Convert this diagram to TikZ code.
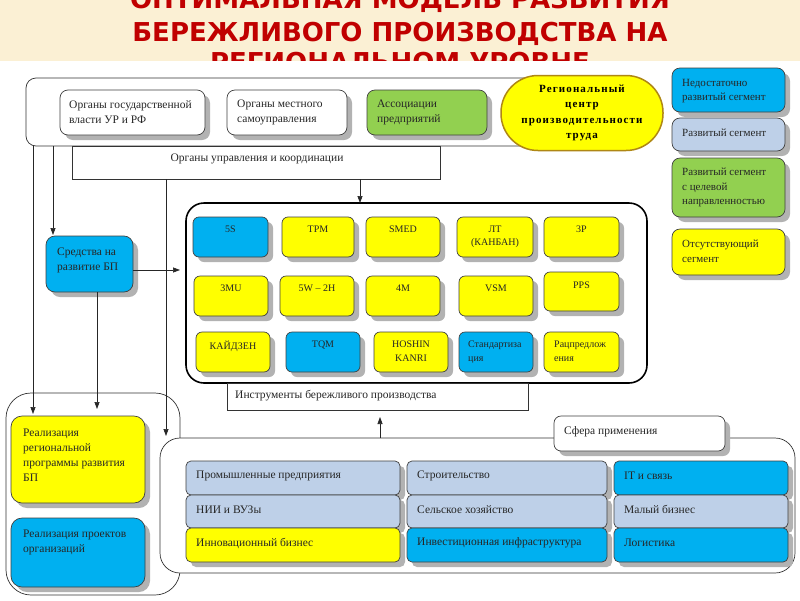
\documentclass[tikz,border=0pt]{standalone}
\usepackage{fontspec}
\setmainfont{Liberation Serif}
\newfontfamily\titlefont{DejaVu Sans}
\newfontfamily\spacedfont[LetterSpace=10]{Liberation Serif}
\usetikzlibrary{shadows,calc,arrows.meta}

\definecolor{cblue}{RGB}{0,176,240}
\definecolor{clblue}{RGB}{190,208,232}
\definecolor{cyel}{RGB}{255,255,0}
\definecolor{cgreen}{RGB}{146,208,80}
\definecolor{cred}{RGB}{192,0,0}
\definecolor{cbeige}{RGB}{251,240,212}
\definecolor{cshadow}{RGB}{178,178,178}
\definecolor{cellb}{RGB}{175,135,20}

\tikzset{
  tile/.style={draw=black!75, line width=0.7pt, rounded corners=6pt, inner sep=0pt, outer sep=0pt,
    drop shadow={shadow xshift=5pt, shadow yshift=-5pt, fill=cshadow, opacity=1}},
  txt/.style={inner sep=0pt, align=left, text=black!85, font=\fontsize{11.5}{15}\selectfont},
  frame/.style={draw=black!80, line width=0.7pt, fill=white, inner sep=0pt, outer sep=0pt, anchor=north west},
  arr/.style={draw=black!85, line width=0.7pt, -{Triangle[length=7pt,width=5pt]}},
  titlesty/.style={font=\titlefont\bfseries\fontsize{26}{30}\selectfont, text=cred, inner sep=0pt}
}

\newcommand\tileL[9]{%
  \node[tile,#6,minimum width={(#4)-(#2)},minimum height={(#5)-(#3)},anchor=north west] (#1) at (#2,#3) {};
  \node[txt,anchor=north west] (#1-t) at ([xshift=#7pt,yshift=-#8pt]#1.north west) {#9};}
\newcommand\tileC[8]{%
  \node[tile,#6,minimum width={(#4)-(#2)},minimum height={(#5)-(#3)},anchor=north west] (#1) at (#2,#3) {};
  \node[txt,align=center,anchor=north] (#1-t) at ([yshift=-#7pt]#1.north) {#8};}
\newcommand\tileM[7]{%
  \node[tile,#6,minimum width={(#4)-(#2)},minimum height={(#5)-(#3)},anchor=north west] (#1) at (#2,#3) {};
  \node[txt,anchor=west] (#1-t) at ([xshift=10pt,yshift=2pt]#1.west) {#7};}

\begin{document}
\begin{tikzpicture}[x=1pt,y=-1pt]
\useasboundingbox (0,0) rectangle (800,600);
% title band
\fill[cbeige] (0,0) rectangle (800,61);
\node[titlesty, anchor=base] (title1) at (400,8) {ОПТИМАЛЬНАЯ МОДЕЛЬ РАЗВИТИЯ};
\node[titlesty, anchor=base] (title2) at (400,41) {БЕРЕЖЛИВОГО ПРОИЗВОДСТВА НА};
\node[titlesty, anchor=base] (title3) at (400,71) {РЕГИОНАЛЬНОМ УРОВНЕ};
\fill[white] (0,61) rectangle (800,600);

% top container
\node[frame, rounded corners=10pt, minimum width=614, minimum height=68] (topb) at (26,78) {};
\node[frame, minimum width=368, minimum height=33] (orgl) at (72,146) {};
\node[txt] (orgl-t) at (257,159) {Органы управления и координации};

\tileL{g1}{60}{90}{205}{135}{fill=white,rounded corners=8pt}{9}{10}{Органы государственной\\власти УР и РФ}
\tileL{g2}{227}{90}{347}{135}{fill=white,rounded corners=8pt}{10}{10}{Органы местного\\самоуправления}
\tileL{g3}{367}{90}{487}{135}{fill=cgreen,rounded corners=8pt}{10}{10}{Ассоциации\\предприятий}

% regional centre
\node[draw=cellb, fill=cyel, line width=1.5pt, rounded corners=37pt, minimum width=162, minimum height=75,
  inner sep=0pt, align=center, font=\spacedfont\bfseries\fontsize{11}{15.5}\selectfont] (rc) at (582,113)
  {Региональный\\центр\\производительности\\труда};

% legend
\begin{scope}[txt/.append style={font=\fontsize{11}{14.5}\selectfont}]
\tileL{lg1}{672}{68}{785}{112}{fill=cblue,rounded corners=8pt}{10}{11}{Недостаточно\\развитый сегмент}
\tileM{lg2}{672}{118}{785}{151}{fill=clblue,rounded corners=8pt}{Развитый сегмент}
\tileL{lg3}{672}{158}{785}{217}{fill=cgreen,rounded corners=8pt}{10}{10}{Развитый сегмент\\с целевой\\направленностью}
\tileL{lg4}{672}{229}{785}{275}{fill=cyel,rounded corners=8pt}{10}{11}{Отсутствующий\\сегмент}
\end{scope}

% funds box
\tileL{sred}{46}{236}{133}{292}{fill=cblue,rounded corners=9pt}{11}{12}{Средства на\\развитие БП}

% tools frame
\node[frame, draw=black, line width=1.6pt, rounded corners=18pt, minimum width=461, minimum height=180] (tools) at (186,203) {};
\node[frame, minimum width=301, minimum height=27] (toolsl) at (227,383) {};
\node[txt, anchor=west] (toolsl-t) at (235,396) {Инструменты бережливого производства};

\begin{scope}[txt/.append style={font=\fontsize{10}{13.5}\selectfont}]
\tileC{t5s}{193}{217}{268}{257}{fill=cblue}{8.5}{5S}
\tileC{ttpm}{282}{217}{354}{257}{fill=cyel}{8.5}{TPM}
\tileC{tsmed}{366}{217}{440}{257}{fill=cyel}{8.5}{SMED}
\tileC{tjit}{457}{217}{533}{257}{fill=cyel}{8.5}{ЛТ\\(КАНБАН)}
\tileC{t3p}{544}{217}{619}{257}{fill=cyel}{8.5}{3P}
\tileC{t3mu}{194}{276}{268}{316}{fill=cyel}{9}{3MU}
\tileC{t5w}{280}{276}{354}{316}{fill=cyel}{9}{5W – 2H}
\tileC{t4m}{366}{276}{440}{316}{fill=cyel}{9}{4M}
\tileC{tvsm}{459}{276}{533}{316}{fill=cyel}{9}{VSM}
\tileC{tpps}{544}{272}{619}{311}{fill=cyel}{10}{PPS}
\tileC{tkai}{196}{332}{270}{372}{fill=cyel}{9}{КАЙДЗЕН}
\tileC{ttqm}{286}{332}{360}{372}{fill=cblue}{9}{TQM}
\tileC{thk}{374}{332}{448}{372}{fill=cyel}{9}{HOSHIN\\KANRI}
\tileL{tstd}{459}{332}{533}{372}{fill=cblue}{9}{9}{Стандартиза\\ция}
\tileL{trac}{544}{332}{619}{372}{fill=cyel}{10}{9}{Рацпредлож\\ения}
\end{scope}

% left group
\node[frame, rounded corners=25pt, minimum width=174, minimum height=202] (leftg) at (6,393) {};
\tileL{real1}{11}{416}{145}{503}{fill=cyel,rounded corners=11pt}{12}{13}{Реализация\\региональной\\программы развития\\БП}
\tileL{real2}{11}{518}{145}{587}{fill=cblue,rounded corners=11pt}{12}{12}{Реализация проектов\\организаций}

% bottom container
\node[frame, rounded corners=20pt, minimum width=635, minimum height=135] (botb) at (160,438) {};
\tileM{sfera}{554}{416}{725}{451}{fill=white,rounded corners=7pt}{Сфера применения}
\begin{scope}[tile/.append style={rounded corners=5pt}, txt/.append style={font=\fontsize{11.5}{14}\selectfont}]
\tileM{s11}{186}{461}{400}{495}{fill=clblue}{Промышленные предприятия}
\tileM{s12}{186}{495}{400}{528}{fill=clblue}{НИИ и ВУЗы}
\tileM{s13}{186}{528}{400}{562}{fill=cyel}{Инновационный бизнес}
\tileM{s21}{407}{461}{607}{495}{fill=clblue}{Строительство}
\tileM{s22}{407}{495}{607}{528}{fill=clblue}{Сельское хозяйство}
\tileM{s23}{407}{528}{607}{562}{fill=cblue}{Инвестиционная инфраструктура}
\tileM{s31}{614}{461}{788}{495}{fill=cblue}{IT и связь}
\tileM{s32}{614}{495}{788}{528}{fill=clblue}{Малый бизнес}
\tileM{s33}{614}{528}{788}{562}{fill=cblue}{Логистика}
\end{scope}

% connectors
\coordinate (p1) at ([xshift=7pt]topb.south west);
\coordinate (p2) at ([xshift=27pt]topb.south west);
\coordinate (p3) at ([xshift=94pt]orgl.south west);
\coordinate (p4) at ([xshift=288pt]orgl.south west);
\coordinate (p5) at ([yshift=-6pt]sred.east);
\coordinate (p6) at ([xshift=7.5pt]sred.south);
\coordinate (p7) at ([xshift=220pt]botb.north west);
\draw[arr, shorten >=2pt] (p1) -- (p1 |- real1.north);
\draw[arr, shorten >=1pt] (p2) -- (p2 |- sred.north);
\draw[arr, shorten >=2pt] (p3) -- (p3 |- botb.north);
\draw[arr] (p4) -- (p4 |- tools.north);
\draw[arr, shorten >=6pt] (p5) -- (p5 -| tools.west);
\draw[arr, shorten >=7pt] (p6) -- (p6 |- real1.north);
\draw[arr, shorten >=7pt] (p7) -- (p7 |- toolsl.south);
\end{tikzpicture}
\end{document}
